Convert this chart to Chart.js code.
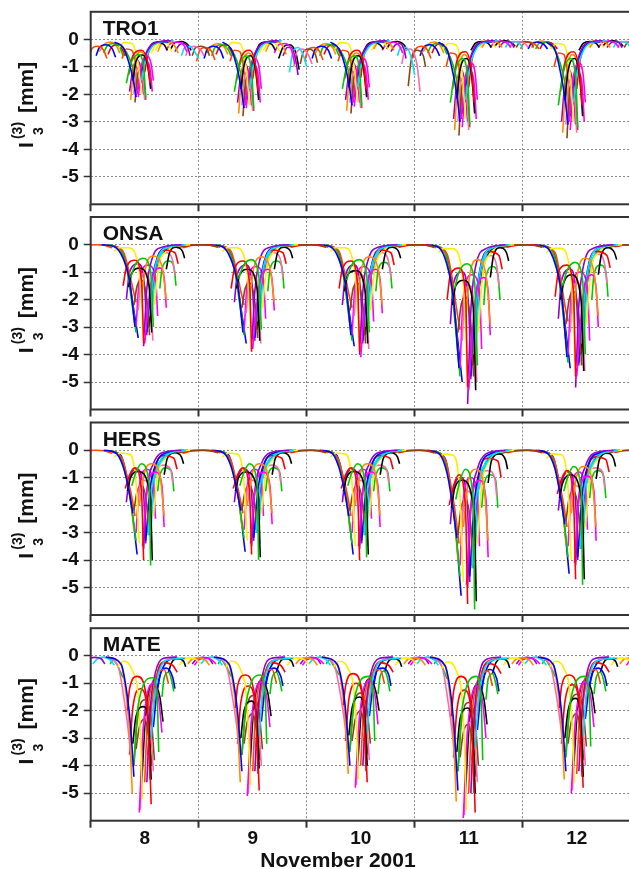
<!DOCTYPE html>
<html>
<head>
<meta charset="utf-8">
<script src="https://cdn.jsdelivr.net/npm/chart.js@4.4.1/dist/chart.umd.min.js"></script>
<style>
  html, body { margin: 0; padding: 0; background: #fff; width: 629px; height: 869px; overflow: hidden; }
  .panel { position: absolute; left: 0; width: 629px; }
  canvas { display: block; }
</style>
</head>
<body>
<div id="panels"></div>
<script>
// days of November 2001 shown on the x axis
const days = [8, 9, 10, 11, 12];
const dayLabels = ['8', '9', '10', '11', '12'];
const stations = ['TRO1', 'ONSA', 'HERS', 'MATE'];
const yLabels = [0, -1, -2, -3, -4, -5];

// satellite passes: time of day (fraction) of the 5 points read for each pass
const tro1Times = [
  [.22,.30,.35,.39,.42],[.33,.37,.44,.49,.51],[.35,.39,.47,.53,.55],[.39,.42,.48,.53,.555],
  [.26,.31,.38,.44,.47],[.37,.40,.46,.52,.54],[.43,.46,.52,.56,.58],[.44,.48,.54,.62,.74],
  [.47,.51,.57,.65,.77],[.40,.42,.45,.48,.50],[.41,.43,.46,.49,.51],[.29,.33,.38,.42,.44],
  [.46,.50,.56,.64,.72],[.24,.30,.36,.40,.43],[.50,.53,.58,.66,.76],[.52,.56,.62,.68,.71],
  [.56,.60,.66,.72,.75],[.62,.66,.72,.78,.81],[.70,.74,.80,.86,.89],[.78,.82,.86,.90,.92],
  [.84,.87,.92,.97,1.0],[.88,.91,.96,1.02,1.05],[.94,.97,1.02,1.08,1.10],[-.02,.01,.06,.12,.15],
  [.05,.08,.14,.20,.23],[.12,.15,.21,.27,.30],[.16,.19,.24,.29,.32],[.74,.78,.84,.90,.93],
  [.60,.64,.70,.76,.79],[.08,.12,.18,.24,.27],[.44,.47,.51,.55,.57],[.36,.39,.43,.47,.49]
];
// I3 values [mm], one block per day
const tro1Values = [
  [ // Nov 8
    [-.1,-.3,-.8,-1.4,-2.1],[-1.6,-.9,-.55,-1.0,-2.1],[-1.3,-.6,-.4,-.9,-1.6],[-1.5,-.8,-.57,-1.0,-1.8],
    [-.3,-.12,-.15,-.9,-2.0],[-2.2,-1.0,-.45,-.8,-1.3],[-2.0,-1.1,-.6,-.9,-1.5],[-1.8,-.9,-.3,-.1,-.05],
    [-1.5,-.7,-.25,-.1,-.05],[-2.0,-1.2,-1.0,-1.4,-2.2],[-2.3,-1.4,-1.1,-1.5,-2.2],[-.7,-.35,-.4,-1.0,-1.8],
    [-1.6,-.7,-.25,-.1,-.1],[-.15,-.3,-.7,-1.2,-1.9],[-1.2,-.55,-.2,-.08,-.05],[-.6,-.2,-.1,-.2,-.4],
    [-.5,-.2,-.1,-.2,-.45],[-.45,-.15,-.1,-.25,-.5],[-.4,-.15,-.1,-.2,-.45],[-.45,-.2,-.15,-.3,-.6],
    [-.6,-.3,-.25,-.5,-.7],[-.6,-.3,-.25,-.4,-.6],[-.6,-.3,-.25,-.4,-.6],[-.7,-.35,-.25,-.4,-.7],
    [-.6,-.3,-.2,-.35,-.65],[-.5,-.25,-.15,-.3,-.6],[-.55,-.3,-.2,-.35,-.6],[-.35,-.12,-.08,-.2,-.4],
    [-.4,-.15,-.08,-.15,-.35],[-.45,-.2,-.1,-.25,-.5],[-2.1,-1.2,-.8,-1.1,-1.9],[-1.9,-1.1,-.75,-1.2,-2.0]
  ],
  [ // Nov 9
    [-.1,-.35,-.95,-1.7,-2.5],[-1.9,-1.05,-.6,-1.2,-2.5],[-1.5,-.7,-.4,-1.05,-1.9],[-1.8,-.95,-.6,-1.2,-2.2],
    [-.3,-.12,-.15,-1.05,-2.4],[-2.7,-1.2,-.5,-.95,-1.55],[-2.4,-1.3,-.7,-1.05,-1.8],[-2.2,-1.05,-.35,-.1,-.05],
    [-1.8,-.85,-.3,-.1,-.05],[-2.4,-1.45,-1.2,-1.7,-2.6],[-2.8,-1.7,-1.3,-1.8,-2.6],[-.8,-.4,-.45,-1.2,-2.1],
    [-1.9,-.85,-.3,-.1,-.1],[-.15,-.35,-.85,-1.45,-2.3],[-1.45,-.65,-.2,-.08,-.05],[-.6,-.2,-.1,-.2,-.4],
    [-.5,-.2,-.1,-.2,-.45],[-.45,-.15,-.1,-.25,-.55],[-.5,-.2,-.15,-.4,-.9],[-.6,-.3,-.3,-.8,-1.3],
    [-1.2,-.5,-.3,-.6,-1.0],[-1.0,-.45,-.35,-.6,-.9],[-.9,-.45,-.35,-.55,-.85],[-.8,-.4,-.3,-.45,-.75],
    [-.7,-.35,-.25,-.4,-.7],[-.6,-.3,-.2,-.35,-.6],[-.55,-.3,-.2,-.35,-.6],[-.7,-.3,-.2,-.5,-1.1],
    [-.4,-.15,-.08,-.15,-.35],[-.5,-.25,-.15,-.3,-.55],[-2.5,-1.45,-.95,-1.3,-2.3],[-2.3,-1.3,-.9,-1.45,-2.4]
  ],
  [ // Nov 10
    [-.1,-.35,-.9,-1.6,-2.4],[-1.8,-1.0,-.6,-1.15,-2.4],[-1.45,-.7,-.4,-1.0,-1.85],[-1.75,-.9,-.6,-1.15,-2.1],
    [-.35,-.12,-.15,-1.0,-2.3],[-2.6,-1.15,-.5,-.9,-1.5],[-2.3,-1.25,-.7,-1.0,-1.75],[-2.1,-1.0,-.35,-.1,-.05],
    [-1.75,-.8,-.3,-.1,-.05],[-2.3,-1.4,-1.15,-1.6,-2.5],[-2.7,-1.6,-1.25,-1.75,-2.5],[-.8,-.4,-.45,-1.15,-2.0],
    [-1.85,-.8,-.3,-.1,-.1],[-.15,-.35,-.8,-1.4,-2.2],[-1.4,-.6,-.2,-.08,-.05],[-.5,-.2,-.1,-.2,-.35],
    [-.4,-.15,-.08,-.15,-.35],[-.35,-.12,-.08,-.2,-.4],[-.4,-.15,-.1,-.25,-.5],[-.45,-.2,-.15,-.35,-.7],
    [-.6,-.3,-.3,-.7,-1.3],[-.9,-.4,-.35,-.9,-1.9],[-1.7,-.7,-.4,-.6,-1.0],[-.8,-.4,-.3,-.45,-.75],
    [-.7,-.35,-.25,-.4,-.7],[-.6,-.3,-.2,-.35,-.6],[-.55,-.3,-.2,-.35,-.6],[-.35,-.12,-.08,-.2,-.4],
    [-.4,-.15,-.08,-.15,-.35],[-.5,-.25,-.15,-.3,-.55],[-2.45,-1.4,-.9,-1.25,-2.2],[-2.2,-1.25,-.85,-1.4,-2.3]
  ],
  [ // Nov 11
    [-.1,-.4,-1.15,-2.0,-3.0],[-2.3,-1.25,-.7,-1.4,-3.1],[-1.8,-.8,-.45,-1.25,-2.3],[-2.15,-1.1,-.7,-1.4,-2.7],
    [-.35,-.15,-.2,-1.25,-2.9],[-3.3,-1.45,-.55,-1.1,-1.85],[-2.9,-1.6,-.85,-1.25,-2.2],[-2.7,-1.3,-.4,-.1,-.05],
    [-2.2,-1.0,-.35,-.1,-.05],[-3.0,-1.75,-1.4,-2.0,-3.3],[-3.5,-2.0,-1.55,-2.15,-3.2],[-1.0,-.5,-.55,-1.45,-2.6],
    [-2.3,-1.0,-.35,-.1,-.1],[-.15,-.4,-1.0,-1.75,-2.8],[-1.75,-.75,-.25,-.08,-.05],[-.4,-.15,-.08,-.15,-.3],
    [-.3,-.12,-.06,-.12,-.3],[-.3,-.1,-.06,-.15,-.3],[-.3,-.1,-.06,-.15,-.3],[-.3,-.12,-.08,-.15,-.3],
    [-.3,-.12,-.08,-.15,-.3],[-.3,-.12,-.08,-.15,-.3],[-.3,-.12,-.08,-.15,-.3],[-.7,-.35,-.25,-.4,-.7],
    [-.6,-.3,-.2,-.35,-.6],[-.5,-.25,-.15,-.3,-.55],[-.5,-.25,-.15,-.3,-.55],[-.25,-.1,-.05,-.12,-.25],
    [-.3,-.1,-.05,-.1,-.25],[-.45,-.2,-.1,-.25,-.5],[-3.2,-1.8,-1.15,-1.6,-2.9],[-2.9,-1.6,-1.1,-1.8,-3.0]
  ],
  [ // Nov 12
    [-.1,-.4,-1.2,-2.1,-3.1],[-2.4,-1.3,-.7,-1.4,-3.2],[-1.9,-.85,-.45,-1.3,-2.4],[-2.2,-1.15,-.7,-1.45,-2.8],
    [-.35,-.15,-.2,-1.3,-3.0],[-3.4,-1.5,-.55,-1.1,-1.9],[-3.0,-1.6,-.85,-1.3,-2.3],[-2.8,-1.3,-.4,-.1,-.05],
    [-2.3,-1.05,-.35,-.1,-.05],[-3.1,-1.8,-1.45,-2.05,-3.4],[-3.6,-2.05,-1.6,-2.2,-3.3],[-1.0,-.5,-.55,-1.5,-2.7],
    [-2.4,-1.05,-.35,-.1,-.1],[-.15,-.4,-1.05,-1.8,-2.9],[-1.8,-.8,-.25,-.08,-.05],[-.4,-.15,-.08,-.15,-.3],
    [-.35,-.12,-.06,-.12,-.3],[-.3,-.1,-.06,-.15,-.3],[-.3,-.1,-.06,-.15,-.3],[-.3,-.12,-.08,-.15,-.3],
    [-.3,-.12,-.08,-.15,-.3],[-.3,-.12,-.08,-.15,-.3],[-.3,-.12,-.08,-.15,-.3],[-.35,-.15,-.1,-.2,-.35],
    [-.35,-.15,-.1,-.2,-.35],[-.35,-.15,-.1,-.2,-.35],[-.35,-.15,-.1,-.2,-.35],[-.25,-.1,-.05,-.12,-.25],
    [-.3,-.1,-.05,-.1,-.25],[-.3,-.12,-.06,-.15,-.3],[-3.3,-1.85,-1.2,-1.65,-3.0],[-3.0,-1.65,-1.1,-1.85,-3.1]
  ]
];

const onsaTimes = [
  [.10,.22,.30,.36,.41],[.37,.41,.485,.555,.58],[.30,.33,.41,.47,.49],[.35,.38,.455,.54,.565],
  [.22,.26,.35,.45,.49],[.47,.51,.58,.66,.70],[.50,.555,.64,.68,.70],[.49,.52,.57,.66,.84],
  [.55,.58,.63,.72,.88],[.44,.46,.51,.55,.575],[.40,.43,.47,.52,.545],[.20,.30,.35,.39,.42],
  [.52,.56,.62,.70,.86],[.16,.27,.33,.37,.42],[.58,.61,.68,.78,.81],[.70,.73,.79,.85,.87],
  [.59,.63,.70,.78,.92],[.13,.25,.32,.37,.40],[.42,.45,.53,.60,.62],[.33,.36,.44,.50,.52],
  [.57,.60,.66,.74,.90],[.62,.64,.70,.76,.78],[.80,.90,1.0,1.10,1.18],[-.15,-.05,.05,.12,.20],
  [.18,.28,.34,.38,.44],[.64,.66,.72,.77,.79],[.85,.95,1.05,1.12,1.16],[.54,.59,.66,.76,.90]
];
const onsaValues = [
  [ // Nov 8
    [-.01,-.08,-.5,-1.3,-3.0],[-1.2,-.75,-.5,-1.0,-3.0],[-1.5,-.85,-.57,-1.3,-3.6],[-1.55,-1.05,-.86,-1.5,-3.2],
    [-.25,-.12,-.12,-1.0,-3.4],[-1.9,-.8,-.42,-.8,-2.0],[-3.6,-1.5,-.85,-1.2,-2.3],[-3.7,-1.6,-.5,-.1,-.01],
    [-2.6,-1.2,-.4,-.1,-.01],[-2.4,-1.4,-1.0,-1.6,-3.5],[-2.2,-1.5,-1.3,-2.0,-3.3],[-.05,-.25,-.9,-1.6,-2.1],
    [-3.2,-1.5,-.45,-.1,-.01],[-.02,-.15,-.8,-1.8,-3.2],[-1.4,-.6,-.2,-.3,-.7],[-.9,-.3,-.1,-.25,-.5],
    [-2.2,-.8,-.25,-.06,-.01],[-.02,-.12,-.7,-1.6,-2.6],[-3.0,-1.3,-.75,-1.2,-2.6],[-2.0,-1.0,-.7,-1.6,-3.3],
    [-2.4,-1.0,-.3,-.08,-.01],[-1.0,-.5,-.3,-.6,-1.1],[-.12,-.03,-.01,-.03,-.1],[-.1,-.03,-.01,-.03,-.12],
    [-.03,-.2,-.9,-1.9,-3.4],[-1.6,-.9,-.6,-.8,-1.5],[-.08,-.02,-.01,-.02,-.06],[-3.0,-1.2,-.35,-.08,-.01]
  ],
  [ // Nov 9
    [-.01,-.08,-.55,-1.4,-3.2],[-1.25,-.8,-.55,-1.1,-3.1],[-1.6,-.9,-.6,-1.4,-3.9],[-1.6,-1.1,-.9,-1.6,-3.5],
    [-.25,-.12,-.12,-1.05,-3.6],[-2.0,-.85,-.45,-.85,-2.1],[-3.8,-1.6,-.9,-1.3,-2.4],[-3.8,-1.7,-.5,-.1,-.01],
    [-2.8,-1.3,-.4,-.1,-.01],[-2.5,-1.5,-1.1,-1.7,-3.6],[-2.3,-1.6,-1.4,-2.1,-3.4],[-.05,-.25,-.95,-1.7,-2.2],
    [-3.4,-1.6,-.45,-.1,-.01],[-.02,-.15,-.85,-1.9,-3.3],[-1.5,-.6,-.2,-.3,-.7],[-.9,-.3,-.1,-.25,-.5],
    [-2.3,-.85,-.25,-.06,-.01],[-.02,-.12,-.75,-1.7,-2.7],[-3.2,-1.4,-.8,-1.3,-2.7],[-2.1,-1.05,-.75,-1.7,-3.5],
    [-2.5,-1.05,-.3,-.08,-.01],[-1.0,-.5,-.3,-.6,-1.2],[-.1,-.03,-.01,-.03,-.1],[-.12,-.03,-.01,-.03,-.1],
    [-.03,-.2,-.95,-2.0,-3.6],[-1.7,-.9,-.6,-.8,-1.6],[-.08,-.02,-.01,-.02,-.06],[-3.1,-1.25,-.35,-.08,-.01]
  ],
  [ // Nov 10
    [-.01,-.08,-.55,-1.45,-3.3],[-1.3,-.8,-.55,-1.1,-3.2],[-1.6,-.9,-.6,-1.4,-3.9],[-1.7,-1.1,-.95,-1.7,-3.6],
    [-.25,-.12,-.12,-1.1,-3.7],[-2.1,-.85,-.45,-.85,-2.2],[-4.1,-1.6,-.9,-1.3,-2.5],[-4.0,-1.7,-.55,-.1,-.01],
    [-3.0,-1.3,-.45,-.1,-.01],[-2.6,-1.5,-1.1,-1.7,-3.8],[-2.4,-1.6,-1.4,-2.2,-3.6],[-.05,-.25,-1.0,-1.8,-2.3],
    [-3.5,-1.6,-.5,-.1,-.01],[-.02,-.15,-.9,-2.0,-3.5],[-1.5,-.6,-.2,-.3,-.75],[-.9,-.3,-.1,-.25,-.5],
    [-2.4,-.9,-.25,-.06,-.01],[-.02,-.12,-.8,-1.8,-2.9],[-3.3,-1.4,-.8,-1.3,-2.8],[-2.2,-1.1,-.75,-1.75,-3.6],
    [-2.6,-1.1,-.3,-.08,-.01],[-1.1,-.55,-.3,-.65,-1.2],[-.1,-.03,-.01,-.03,-.1],[-.1,-.03,-.01,-.03,-.1],
    [-.03,-.2,-1.0,-2.1,-3.7],[-1.7,-.95,-.65,-.85,-1.6],[-.08,-.02,-.01,-.02,-.06],[-3.3,-1.3,-.4,-.08,-.01]
  ],
  [ // Nov 11
    [-.01,-.1,-.75,-2.0,-4.5],[-1.6,-1.0,-.7,-1.4,-4.4],[-2.0,-1.1,-.86,-1.8,-5.2],[-2.2,-1.5,-1.3,-2.2,-5.3],
    [-.3,-.15,-.15,-1.4,-4.9],[-2.8,-1.1,-.55,-1.1,-2.9],[-5.3,-2.2,-1.2,-1.7,-3.3],[-5.8,-2.4,-.7,-.15,-.01],
    [-4.0,-1.7,-.55,-.12,-.01],[-3.5,-2.0,-1.5,-2.3,-5.0],[-3.2,-2.2,-1.9,-2.9,-4.8],[-.06,-.35,-1.3,-2.4,-3.1],
    [-4.8,-2.2,-.65,-.14,-.01],[-.02,-.2,-1.2,-2.7,-4.8],[-1.9,-.8,-.25,-.4,-.9],[-1.2,-.4,-.12,-.3,-.6],
    [-3.2,-1.1,-.35,-.08,-.01],[-.02,-.15,-1.0,-2.4,-3.9],[-4.5,-1.9,-1.1,-1.7,-3.8],[-2.9,-1.4,-1.0,-2.3,-4.9],
    [-3.5,-1.4,-.4,-.1,-.01],[-1.4,-.7,-.4,-.8,-1.5],[-.12,-.03,-.01,-.03,-.1],[-.1,-.03,-.01,-.03,-.12],
    [-.04,-.3,-1.3,-2.8,-5.0],[-2.2,-1.2,-.8,-1.1,-2.0],[-.08,-.02,-.01,-.02,-.06],[-4.4,-1.8,-.5,-.1,-.01]
  ],
  [ // Nov 12
    [-.01,-.1,-.7,-1.8,-4.1],[-1.5,-.95,-.65,-1.3,-4.0],[-1.9,-1.0,-.75,-1.7,-4.8],[-2.0,-1.4,-1.1,-2.0,-4.6],
    [-.3,-.15,-.14,-1.3,-4.5],[-2.5,-1.0,-.5,-1.0,-2.6],[-4.8,-2.0,-1.1,-1.6,-3.0],[-5.2,-2.2,-.65,-.13,-.01],
    [-3.6,-1.6,-.5,-.12,-.01],[-3.2,-1.8,-1.4,-2.1,-4.6],[-2.9,-2.0,-1.7,-2.6,-4.4],[-.06,-.3,-1.2,-2.2,-2.8],
    [-4.3,-2.0,-.6,-.13,-.01],[-.02,-.2,-1.1,-2.4,-4.3],[-1.8,-.75,-.25,-.4,-.85],[-1.1,-.35,-.12,-.3,-.55],
    [-2.9,-1.0,-.3,-.07,-.01],[-.02,-.15,-.95,-2.2,-3.5],[-4.0,-1.75,-1.0,-1.6,-3.5],[-2.7,-1.3,-.9,-2.1,-4.4],
    [-3.2,-1.3,-.4,-.1,-.01],[-1.3,-.65,-.35,-.75,-1.4],[-.1,-.03,-.01,-.03,-.1],[-.1,-.03,-.01,-.03,-.1],
    [-.04,-.25,-1.2,-2.5,-4.5],[-2.0,-1.1,-.75,-1.0,-1.9],[-.08,-.02,-.01,-.02,-.06],[-4.0,-1.6,-.45,-.1,-.01]
  ]
];

const hersTimes = [
  [.12,.23,.30,.35,.39],[.38,.42,.47,.54,.555],[.32,.36,.41,.47,.49],[.34,.37,.44,.55,.57],
  [.22,.27,.36,.42,.45],[.45,.50,.565,.64,.68],[.48,.52,.60,.66,.68],[.49,.52,.58,.66,.84],
  [.53,.57,.62,.72,.88],[.43,.45,.50,.545,.565],[.40,.43,.47,.52,.54],[.18,.29,.34,.38,.41],
  [.51,.55,.61,.70,.86],[.15,.26,.32,.37,.42],[.57,.60,.67,.77,.80],[.68,.71,.78,.84,.86],
  [.58,.62,.69,.78,.92],[.14,.25,.32,.36,.40],[.42,.45,.52,.58,.60],[.33,.36,.43,.49,.51],
  [.56,.59,.65,.74,.90],[.60,.62,.68,.74,.76],[.80,.90,1.0,1.10,1.18],[-.15,-.05,.05,.12,.20],
  [.17,.28,.33,.37,.43],[.62,.64,.70,.75,.77],[.85,.95,1.05,1.12,1.16],[.53,.58,.65,.75,.90]
];
const hersValues = [
  [ // Nov 8
    [-.01,-.1,-.6,-1.4,-2.3],[-1.3,-.8,-.5,-1.2,-4.2],[-1.4,-.9,-.65,-1.5,-4.0],[-1.5,-1.0,-.78,-1.6,-4.0],
    [-.25,-.12,-.15,-1.2,-3.4],[-2.0,-.8,-.5,-.9,-2.4],[-3.5,-1.5,-.8,-1.3,-2.8],[-3.6,-1.5,-.5,-.1,-.01],
    [-3.1,-1.3,-.65,-.15,-.01],[-2.5,-1.4,-1.1,-1.7,-3.5],[-2.2,-1.5,-1.3,-2.0,-3.1],[-.05,-.3,-1.0,-1.7,-2.4],
    [-3.3,-1.4,-.45,-.1,-.01],[-.02,-.15,-.8,-1.9,-3.3],[-1.3,-.6,-.2,-.3,-.7],[-.9,-.3,-.1,-.25,-.5],
    [-2.4,-.9,-.3,-.07,-.01],[-.02,-.12,-.75,-1.5,-2.9],[-3.0,-1.3,-.7,-1.2,-2.5],[-1.9,-1.0,-.7,-1.6,-3.4],
    [-2.8,-1.1,-.35,-.08,-.01],[-1.0,-.6,-.55,-.7,-1.2],[-.12,-.03,-.01,-.03,-.1],[-.1,-.03,-.01,-.03,-.12],
    [-.03,-.2,-.9,-1.8,-3.8],[-1.5,-.9,-.65,-.8,-1.5],[-.08,-.02,-.01,-.02,-.06],[-3.0,-1.2,-.4,-.08,-.01]
  ],
  [ // Nov 9
    [-.01,-.1,-.6,-1.4,-2.2],[-1.3,-.8,-.5,-1.2,-4.0],[-1.4,-.9,-.65,-1.5,-3.8],[-1.5,-1.0,-.8,-1.6,-3.9],
    [-.25,-.12,-.15,-1.2,-3.3],[-2.0,-.8,-.5,-.9,-2.3],[-3.4,-1.5,-.8,-1.3,-2.7],[-3.5,-1.5,-.5,-.1,-.01],
    [-3.0,-1.3,-.65,-.15,-.01],[-2.5,-1.4,-1.1,-1.7,-3.4],[-2.2,-1.5,-1.3,-2.0,-3.0],[-.05,-.3,-1.0,-1.7,-2.3],
    [-3.2,-1.4,-.45,-.1,-.01],[-.02,-.15,-.8,-1.8,-3.2],[-1.3,-.6,-.2,-.3,-.7],[-.9,-.3,-.1,-.25,-.5],
    [-2.3,-.9,-.3,-.07,-.01],[-.02,-.12,-.75,-1.5,-2.8],[-2.9,-1.3,-.7,-1.2,-2.4],[-1.9,-1.0,-.7,-1.6,-3.3],
    [-2.7,-1.1,-.35,-.08,-.01],[-1.0,-.6,-.55,-.7,-1.2],[-.1,-.03,-.01,-.03,-.1],[-.12,-.03,-.01,-.03,-.1],
    [-.03,-.2,-.9,-1.8,-3.7],[-1.5,-.9,-.65,-.8,-1.5],[-.08,-.02,-.01,-.02,-.06],[-2.9,-1.2,-.4,-.08,-.01]
  ],
  [ // Nov 10
    [-.01,-.1,-.65,-1.5,-2.4],[-1.3,-.8,-.5,-1.2,-3.9],[-1.4,-.9,-.65,-1.5,-4.0],[-1.5,-1.0,-.78,-1.6,-3.8],
    [-.25,-.12,-.15,-1.2,-3.5],[-2.0,-.8,-.5,-.9,-2.4],[-3.5,-1.5,-.8,-1.3,-2.8],[-3.6,-1.5,-.5,-.1,-.01],
    [-3.1,-1.3,-.65,-.15,-.01],[-2.6,-1.4,-1.1,-1.7,-3.5],[-2.2,-1.5,-1.3,-2.0,-3.1],[-.05,-.3,-1.0,-1.7,-2.4],
    [-3.3,-1.4,-.45,-.1,-.01],[-.02,-.15,-.8,-1.9,-3.4],[-1.3,-.6,-.2,-.3,-.7],[-.9,-.3,-.1,-.25,-.5],
    [-2.4,-.9,-.3,-.07,-.01],[-.02,-.12,-.75,-1.5,-2.9],[-3.0,-1.3,-.7,-1.2,-2.5],[-1.9,-1.0,-.7,-1.6,-3.4],
    [-2.8,-1.1,-.35,-.08,-.01],[-1.0,-.6,-.55,-.7,-1.2],[-.1,-.03,-.01,-.03,-.1],[-.1,-.03,-.01,-.03,-.1],
    [-.03,-.2,-.9,-1.8,-3.8],[-1.5,-.9,-.65,-.8,-1.5],[-.08,-.02,-.01,-.02,-.06],[-3.0,-1.2,-.4,-.08,-.01]
  ],
  [ // Nov 11
    [-.01,-.15,-.85,-2.0,-3.2],[-1.8,-1.1,-.7,-1.7,-5.8],[-2.0,-1.3,-.9,-2.1,-5.6],[-2.1,-1.4,-1.1,-2.2,-5.5],
    [-.3,-.15,-.2,-1.7,-4.8],[-2.8,-1.1,-.7,-1.3,-3.3],[-4.9,-2.1,-1.1,-1.8,-3.9],[-5.0,-2.1,-.7,-.14,-.01],
    [-4.3,-1.8,-.9,-.2,-.01],[-3.5,-2.0,-1.5,-2.4,-4.9],[-3.1,-2.1,-1.8,-2.8,-4.3],[-.07,-.4,-1.4,-2.4,-3.4],
    [-4.6,-2.0,-.6,-.14,-.01],[-.03,-.2,-1.1,-2.6,-4.6],[-1.8,-.8,-.3,-.4,-1.0],[-1.2,-.4,-.14,-.35,-.7],
    [-3.4,-1.3,-.4,-.1,-.01],[-.03,-.17,-1.05,-2.1,-4.0],[-4.2,-1.8,-1.0,-1.7,-3.5],[-2.7,-1.4,-1.0,-2.2,-4.8],
    [-3.9,-1.5,-.5,-.11,-.01],[-1.4,-.8,-.75,-1.0,-1.7],[-.12,-.03,-.01,-.03,-.1],[-.1,-.03,-.01,-.03,-.12],
    [-.04,-.3,-1.3,-2.5,-5.3],[-2.1,-1.3,-.9,-1.1,-2.1],[-.08,-.02,-.01,-.02,-.06],[-4.2,-1.7,-.55,-.1,-.01]
  ],
  [ // Nov 12
    [-.01,-.12,-.7,-1.7,-2.7],[-1.5,-.95,-.6,-1.4,-4.9],[-1.6,-1.05,-.75,-1.75,-4.7],[-1.75,-1.2,-.9,-1.9,-4.7],
    [-.3,-.14,-.17,-1.4,-4.0],[-2.3,-.95,-.6,-1.05,-2.8],[-4.1,-1.75,-.95,-1.5,-3.3],[-4.2,-1.75,-.6,-.12,-.01],
    [-3.6,-1.5,-.75,-.17,-.01],[-2.9,-1.65,-1.3,-2.0,-4.1],[-2.6,-1.75,-1.5,-2.35,-3.6],[-.06,-.35,-1.2,-2.0,-2.8],
    [-3.9,-1.65,-.5,-.12,-.01],[-.02,-.17,-.95,-2.2,-3.9],[-1.5,-.7,-.25,-.35,-.8],[-1.05,-.35,-.12,-.3,-.6],
    [-2.8,-1.05,-.35,-.08,-.01],[-.02,-.14,-.9,-1.75,-3.4],[-3.5,-1.5,-.8,-1.4,-2.9],[-2.2,-1.2,-.8,-1.9,-4.0],
    [-3.3,-1.3,-.4,-.1,-.01],[-1.2,-.7,-.65,-.8,-1.4],[-.1,-.03,-.01,-.03,-.1],[-.1,-.03,-.01,-.03,-.1],
    [-.03,-.24,-1.05,-2.1,-4.5],[-1.75,-1.05,-.75,-.95,-1.75],[-.08,-.02,-.01,-.02,-.06],[-3.5,-1.4,-.45,-.1,-.01]
  ]
];

const mateTimes = [
  [.14,.28,.34,.37,.40],[.40,.44,.57,.615,.63],[.34,.36,.43,.52,.55],[.39,.42,.49,.54,.56],
  [.25,.30,.38,.45,.48],[.16,.28,.33,.36,.385],[.45,.49,.58,.63,.66],[.52,.55,.60,.67,.80],
  [.56,.59,.64,.72,.86],[.46,.48,.52,.56,.58],[.42,.45,.50,.54,.57],[.50,.53,.62,.68,.72],
  [.62,.65,.70,.76,.78],[.66,.68,.72,.75,.77],[.58,.61,.67,.76,.80],[.72,.75,.80,.86,.88],
  [.82,.86,.92,.98,1.02],[.90,.94,1.0,1.06,1.10],[.96,1.0,1.06,1.12,1.16],[-.06,-.02,.04,.10,.13],
  [.02,.06,.12,.18,.22],[.12,.25,.31,.35,.38],[.40,.43,.50,.56,.59],[.53,.57,.63,.71,.84],
  [.58,.62,.68,.76,.88],[.18,.21,.24,.27,.30],[.36,.39,.46,.53,.56],[.47,.51,.58,.64,.67]
];
const mateValues = [
  [ // Nov 8
    [-.05,-.3,-1.5,-2.6,-4.4],[-3.9,-1.8,-.8,-1.5,-3.5],[-2.0,-1.2,-.75,-1.6,-4.5],[-3.2,-2.2,-1.85,-2.6,-4.5],
    [-.4,-.2,-.5,-2.0,-5.2],[-.05,-.3,-1.5,-2.8,-5.0],[-5.7,-2.5,-1.0,-1.6,-2.8],[-4.6,-2.0,-.6,-.1,-.05],
    [-3.0,-1.5,-.5,-.15,-.1],[-5.6,-3.0,-2.2,-3.0,-4.2],[-3.4,-2.6,-2.3,-3.0,-4.0],[-4.6,-2.0,-.65,-.5,-1.0],
    [-1.2,-.6,-.45,-.8,-1.2],[-1.5,-.8,-.6,-.9,-1.3],[-2.0,-.8,-.25,-.35,-.6],[-.6,-.25,-.1,-.2,-.4],
    [-.35,-.15,-.08,-.15,-.3],[-.3,-.12,-.08,-.15,-.35],[-.35,-.15,-.08,-.15,-.3],[-.3,-.12,-.06,-.12,-.3],
    [-.3,-.12,-.05,-.15,-.35],[-.05,-.35,-1.6,-2.8,-4.0],[-4.0,-2.4,-1.6,-2.3,-3.8],[-3.6,-1.6,-.5,-.15,-.1],
    [-2.6,-1.1,-.35,-.12,-.1],[-.3,-.15,-.3,-.55,-.8],[-3.6,-1.9,-1.2,-2.2,-5.4],[-4.8,-2.1,-1.0,-1.5,-2.4]
  ],
  [ // Nov 9
    [-.05,-.3,-1.4,-2.5,-4.2],[-3.6,-1.7,-.7,-1.4,-3.2],[-1.9,-1.1,-.7,-1.5,-4.3],[-3.0,-2.0,-1.65,-2.4,-4.1],
    [-.4,-.2,-.45,-1.9,-4.7],[-.05,-.3,-1.4,-2.6,-4.6],[-5.1,-2.3,-.95,-1.5,-2.6],[-4.2,-1.9,-.55,-.1,-.05],
    [-2.9,-1.4,-.45,-.15,-.1],[-5.0,-2.8,-2.0,-2.8,-4.0],[-3.2,-2.4,-2.1,-2.8,-3.8],[-4.2,-1.9,-.6,-.5,-1.0],
    [-1.1,-.6,-.45,-.75,-1.1],[-1.4,-.8,-.6,-.9,-1.3],[-1.9,-.8,-.25,-.35,-.6],[-.6,-.25,-.1,-.2,-.4],
    [-.35,-.15,-.08,-.15,-.3],[-.3,-.12,-.08,-.15,-.35],[-.35,-.15,-.08,-.15,-.3],[-.3,-.12,-.06,-.12,-.3],
    [-.3,-.12,-.05,-.15,-.35],[-.05,-.3,-1.45,-2.5,-3.6],[-3.6,-2.2,-1.45,-2.1,-3.4],[-3.3,-1.45,-.45,-.15,-.1],
    [-2.4,-1.0,-.32,-.12,-.1],[-.3,-.15,-.3,-.5,-.75],[-3.2,-1.7,-1.1,-2.0,-4.9],[-4.3,-1.9,-.9,-1.35,-2.2]
  ],
  [ // Nov 10
    [-.05,-.3,-1.3,-2.4,-4.0],[-3.5,-1.6,-.75,-1.4,-3.1],[-1.8,-1.1,-.65,-1.5,-4.2],[-2.9,-1.9,-1.5,-2.3,-4.0],
    [-.4,-.2,-.45,-1.8,-4.5],[-.05,-.3,-1.3,-2.5,-4.3],[-4.8,-2.2,-.9,-1.4,-2.5],[-4.0,-1.8,-.55,-.1,-.05],
    [-2.8,-1.3,-.45,-.15,-.1],[-4.7,-2.7,-1.9,-2.7,-3.8],[-3.1,-2.3,-2.0,-2.7,-3.6],[-4.0,-1.8,-.6,-.5,-1.0],
    [-1.1,-.55,-.45,-.7,-1.1],[-1.4,-.75,-.55,-.85,-1.3],[-1.8,-.75,-.25,-.35,-.6],[-.6,-.25,-.1,-.2,-.4],
    [-.35,-.15,-.08,-.15,-.3],[-.3,-.12,-.08,-.15,-.35],[-.35,-.15,-.08,-.15,-.3],[-.3,-.12,-.06,-.12,-.3],
    [-.3,-.12,-.05,-.15,-.35],[-.05,-.3,-1.35,-2.4,-3.4],[-3.4,-2.0,-1.35,-2.0,-3.2],[-3.1,-1.35,-.45,-.15,-.1],
    [-2.2,-.95,-.3,-.12,-.1],[-.3,-.15,-.3,-.5,-.7],[-3.1,-1.6,-1.0,-1.9,-4.6],[-4.1,-1.8,-.85,-1.3,-2.0]
  ],
  [ // Nov 11
    [-.05,-.35,-1.6,-2.9,-4.9],[-4.2,-1.9,-.75,-1.6,-3.8],[-2.2,-1.3,-.75,-1.7,-5.0],[-3.5,-2.3,-1.9,-2.8,-5.0],
    [-.45,-.22,-.5,-2.2,-5.6],[-.05,-.35,-1.6,-3.0,-5.3],[-5.9,-2.7,-1.1,-1.7,-3.0],[-5.0,-2.2,-.65,-.12,-.05],
    [-3.3,-1.6,-.55,-.17,-.1],[-5.8,-3.2,-2.4,-3.2,-4.6],[-3.7,-2.8,-2.5,-3.3,-4.4],[-5.0,-2.2,-.7,-.55,-1.1],
    [-1.3,-.65,-.5,-.85,-1.3],[-1.6,-.85,-.65,-1.0,-1.4],[-2.2,-.9,-.28,-.4,-.65],[-.65,-.27,-.1,-.22,-.45],
    [-.35,-.15,-.08,-.15,-.3],[-.3,-.12,-.08,-.15,-.35],[-.35,-.15,-.08,-.15,-.3],[-.3,-.12,-.06,-.12,-.3],
    [-.3,-.12,-.05,-.15,-.35],[-.05,-.37,-1.7,-2.9,-4.2],[-4.2,-2.5,-1.7,-2.4,-4.0],[-3.8,-1.7,-.5,-.15,-.1],
    [-2.7,-1.15,-.36,-.12,-.1],[-.3,-.15,-.3,-.55,-.85],[-3.7,-2.0,-1.25,-2.3,-5.7],[-5.0,-2.2,-1.05,-1.55,-2.5]
  ],
  [ // Nov 12
    [-.05,-.3,-1.4,-2.5,-4.2],[-3.7,-1.7,-.75,-1.4,-3.3],[-1.9,-1.1,-.7,-1.5,-4.4],[-3.0,-2.0,-1.55,-2.4,-4.4],
    [-.4,-.2,-.45,-1.9,-4.6],[-.05,-.3,-1.4,-2.6,-4.5],[-5.0,-2.3,-.95,-1.5,-2.6],[-4.2,-1.9,-.55,-.1,-.05],
    [-2.9,-1.4,-.45,-.15,-.1],[-4.9,-2.8,-2.0,-2.8,-4.0],[-3.2,-2.4,-2.1,-2.8,-3.8],[-4.3,-1.9,-.6,-.5,-1.0],
    [-1.1,-.6,-.45,-.75,-1.1],[-1.4,-.8,-.6,-.9,-1.3],[-1.9,-.8,-.25,-.35,-.6],[-.6,-.25,-.1,-.2,-.4],
    [-.35,-.15,-.08,-.15,-.3],[-.3,-.12,-.08,-.15,-.35],[-.35,-.15,-.08,-.15,-.3],[-.3,-.12,-.06,-.12,-.3],
    [-.3,-.12,-.05,-.15,-.35],[-.05,-.3,-1.4,-2.5,-3.5],[-3.5,-2.1,-1.4,-2.0,-3.3],[-3.2,-1.4,-.45,-.15,-.1],
    [-2.3,-1.0,-.32,-.12,-.1],[-.3,-.15,-.3,-.5,-.75],[-3.2,-1.7,-1.05,-1.95,-4.8],[-4.2,-1.85,-.9,-1.3,-2.1]
  ]
];

const panelTimes = [tro1Times, onsaTimes, hersTimes, mateTimes];
const panelValues = [tro1Values, onsaValues, hersValues, mateValues];

// styling / layout
const palette = ['#0000ff', '#00c800', '#ff0000', '#000000', '#ffee00', '#ff8c00',
                 '#ff00ff', '#9400d3', '#00e0ff', '#ff69b4', '#8b4513', '#ff4500'];
const FONT = '"Liberation Sans", Arial, sans-serif';
const plotTops = [11.8, 217, 422.5, 628.2];
const plotH = 192.5;
const axisW = 90.7;
const xMax = 8 + (629 - axisW) / 108;

Chart.defaults.font.family = FONT;
Chart.defaults.animation = false;

function passDatasets(times, values) {
    const sets = [];
    values.forEach((passes, di) => {
        passes.forEach((vals, pi) => {
            sets.push({
                data: vals.map((v, k) => ({ x: days[di] + times[pi][k], y: v })),
                borderColor: palette[pi % palette.length],
                borderWidth: 1.6,
                pointRadius: 0,
                fill: false,
                cubicInterpolationMode: 'monotone'
            });
        });
    });
    return sets;
}

// frame, station name and axis titles
const panelDecor = {
    id: 'panelDecor',
    afterDatasetsDraw(chart, args, opts) {
        const { ctx, chartArea: a } = chart;
        ctx.save();
        ctx.strokeStyle = '#333';
        ctx.lineWidth = 2;
        ctx.strokeRect(a.left, a.top, a.right - a.left + 20, a.bottom - a.top);

        ctx.fillStyle = '#111';
        ctx.textAlign = 'left';
        ctx.textBaseline = 'alphabetic';
        ctx.font = 'bold 21px ' + FONT;
        ctx.fillText(opts.station, a.left + 12, a.top + 23);

        // I_3^(3) [mm], rotated
        ctx.save();
        ctx.translate(33, (a.top + a.bottom) / 2 + 40);
        ctx.rotate(-Math.PI / 2);
        ctx.font = 'bold 21px ' + FONT;
        ctx.fillText('I', 0, 0);
        ctx.font = 'bold 14px ' + FONT;
        ctx.fillText('(3)', 9, -11);
        ctx.fillText('3', 13, 10);
        ctx.font = 'bold 21px ' + FONT;
        ctx.fillText('[mm]', 35, 0);
        ctx.restore();

        if (opts.xTitle) {
            ctx.textAlign = 'center';
            ctx.textBaseline = 'middle';
            ctx.font = 'bold 21px ' + FONT;
            ctx.fillText(opts.xTitle, 338, opts.xTitleY);
        }
        ctx.restore();
    }
};

const xTickValues = days.flatMap(d => [d, d + 0.5]);
const holder = document.getElementById('panels');

stations.forEach((station, i) => {
    const last = i === stations.length - 1;
    const canvasTop = Math.round(plotTops[i] - 14);
    const canvasH = last ? 869 - canvasTop : 216;
    const padTop = plotTops[i] - canvasTop;
    const xH = canvasH - padTop - plotH;

    const div = document.createElement('div');
    div.className = 'panel';
    div.style.top = canvasTop + 'px';
    div.style.height = canvasH + 'px';
    const canvas = document.createElement('canvas');
    canvas.width = 629;
    canvas.height = canvasH;
    div.appendChild(canvas);
    holder.appendChild(div);

    new Chart(canvas, {
        type: 'line',
        data: { datasets: passDatasets(panelTimes[i], panelValues[i]) },
        options: {
            responsive: false,
            devicePixelRatio: 1,
            events: [],
            layout: { padding: { top: padTop, right: 0, bottom: 0, left: 0 } },
            plugins: {
                legend: { display: false },
                tooltip: { enabled: false },
                panelDecor: {
                    station: station,
                    xTitle: last ? 'November 2001' : '',
                    xTitleY: 861 - canvasTop
                }
            },
            scales: {
                x: {
                    type: 'linear',
                    min: 8,
                    max: xMax,
                    afterBuildTicks: s => { s.ticks = xTickValues.map(v => ({ value: v })); },
                    afterFit: s => { s.height = xH; s.paddingLeft = 0; s.paddingRight = 0; },
                    border: { display: false, dash: [2, 2] },
                    grid: {
                        color: c => (c.tick && Number.isInteger(c.tick.value) && c.tick.value > 8) ? '#8a8a8a' : 'rgba(0,0,0,0)',
                        lineWidth: 1,
                        tickColor: c => (c.tick && Number.isInteger(c.tick.value)) ? '#333' : 'rgba(0,0,0,0)',
                        tickLength: 7,
                        tickWidth: 2
                    },
                    ticks: {
                        autoSkip: false,
                        maxRotation: 0,
                        padding: 0,
                        color: '#111',
                        font: { size: 19, weight: 'bold' },
                        callback: v => (last && !Number.isInteger(v)) ? dayLabels[days.indexOf(v - 0.5)] : ''
                    }
                },
                y: {
                    min: -6,
                    max: 1,
                    afterFit: s => { s.width = axisW; s.paddingTop = 0; s.paddingBottom = 0; },
                    border: { display: false, dash: [2, 2] },
                    grid: {
                        color: c => (c.tick && yLabels.includes(c.tick.value)) ? '#8a8a8a' : 'rgba(0,0,0,0)',
                        lineWidth: 1,
                        tickColor: c => (c.tick && yLabels.includes(c.tick.value)) ? '#333' : 'rgba(0,0,0,0)',
                        tickLength: 7,
                        tickWidth: 1.5
                    },
                    ticks: {
                        stepSize: 1,
                        padding: 5,
                        color: '#111',
                        font: { size: 19, weight: 'bold' },
                        callback: v => yLabels.includes(v) ? String(v) : ''
                    }
                }
            }
        },
        plugins: [panelDecor]
    });
});
</script>
</body>
</html>
